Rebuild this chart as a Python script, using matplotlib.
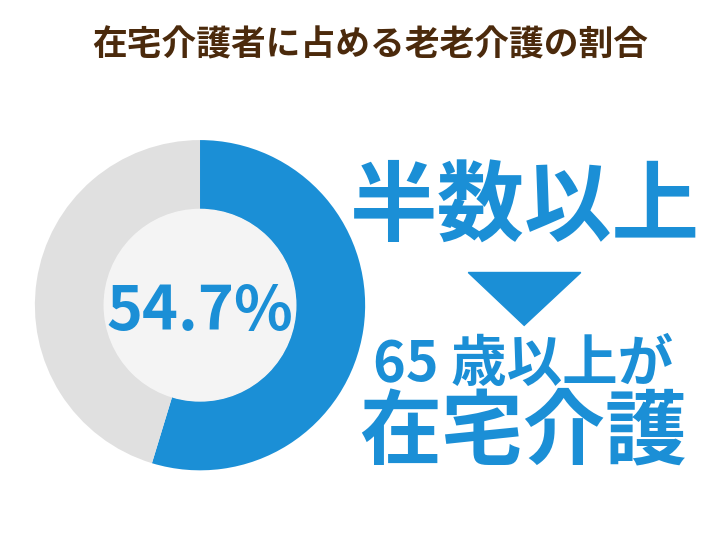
import matplotlib.pyplot as plt
from matplotlib.patches import Polygon, Circle

plt.rcParams['font.family'] = ['Noto Sans CJK JP', 'DejaVu Sans']

title = "在宅介護者に占める老老介護の割合"
share = 54.7
rest = 100 - share
center_label = "54.7%"
headline = "半数以上"
line2 = "65 歳以上が"
line3 = "在宅介護"

blue = '#1b8fd6'
gray = '#e0e0e0'

fig = plt.figure(figsize=(7.26, 5.45), dpi=100)
fig.text(0.51, 0.917, title, ha='center', va='center', fontsize=25,
         fontweight='bold', color='#4b2a0c')

ax = fig.add_axes([0.048, 0.137, 0.455, 0.606])
ax.pie([share, rest], colors=[blue, gray], startangle=90, counterclock=False,
       wedgeprops=dict(width=0.42, edgecolor='none'))
ax.add_patch(Circle((0, 0), 0.58, color='#f4f4f4', zorder=3))
ax.text(0, -0.04, center_label, ha='center', va='center', fontsize=44,
        fontweight='bold', color=blue, zorder=4)
ax.set_aspect('equal')
ax.set_xlim(-1, 1)
ax.set_ylim(-1, 1)

fig.text(0.723, 0.615, headline, ha='center', va='center', fontsize=63,
         fontweight='bold', color=blue)
tri = Polygon([[0.645, 0.50], [0.80, 0.50], [0.722, 0.403]], closed=True,
              transform=fig.transFigure, color=blue)
fig.patches.append(tri)
fig.text(0.72, 0.33, line2, ha='center', va='center', fontsize=40,
         fontweight='bold', color=blue)
fig.text(0.72, 0.205, line3, ha='center', va='center', fontsize=59,
         fontweight='bold', color=blue)

fig.savefig('out.png', dpi=100, facecolor='white')
